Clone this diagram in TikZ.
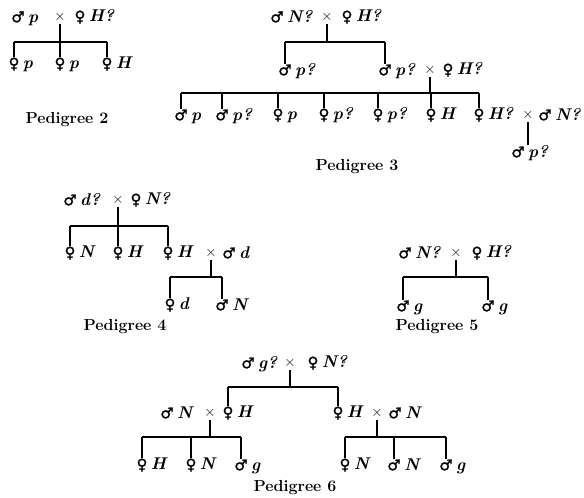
\documentclass[tikz,border=0pt]{standalone}
\usepackage{fontspec}
\newfontfamily\sexsym{DejaVu Sans}[FakeBold=1.5]
\newcommand{\genefont}{\fontsize{17}{19}\selectfont\bfseries\itshape}
\newcommand{\sexfont}{\sexsym\fontsize{15}{17}\selectfont}

\begin{document}
\begin{tikzpicture}[x=1pt,y=-1pt,
    sx/.style={inner sep=0pt, font=\sexfont},
    gn/.style={inner sep=0pt, font=\genefont},
    male/.style={sx, node contents={♂}, label={[gn, anchor=base west, xshift=3pt]base east:#1}},
    female/.style={sx, node contents={♀}, label={[gn, anchor=base west, xshift=3pt]base east:#1}},
    mate/.style={inner sep=0pt, font=\fontsize{14}{16}\selectfont, node contents={$\times$}},
    ttl/.style={font=\fontsize{16}{18}\selectfont\bfseries},
    kin/.style={line width=1.3pt}]
  \useasboundingbox (0,0) rectangle (584,498);
  % pedigree 2
  \node (m2) at (18,17) [male=p];
  \node (x2) at (60,17) [mate];
  \node (f2) at (80,17) [female=H?];
  \coordinate (b2) at (60,42);
  \node (c2a) at (14,64) [female=p];
  \node (c2b) at (60,64) [female=p];
  \node (c2c) at (107,64) [female=H];
  \draw[kin, shorten <=2pt] (x2.south) -- (b2);
  \draw[kin] (c2a |- b2) -- (c2c |- b2);
  \foreach \kid in {c2a,c2b,c2c} \draw[kin] (\kid |- b2) -- (\kid.north);
  \node[ttl] (t2) at (67,120) {Pedigree 2};
  % pedigree 3
  \node (m3) at (277,17) [male=N?];
  \node (x3) at (327,17) [mate];
  \node (f3) at (347,17) [female=H?];
  \coordinate (b3) at (327,42);
  \node (m3b) at (285,70) [male=p?];
  \node (m3c) at (385,70) [male=p?];
  \node (x3b) at (430,70) [mate];
  \node (f3b) at (448,70) [female=H?];
  \coordinate (b3b) at (430,93);
  \draw[kin, shorten <=2pt] (x3.south) -- (b3);
  \draw[kin] (m3b |- b3) -- (m3c |- b3);
  \foreach \kid in {m3b,m3c} \draw[kin] (\kid |- b3) -- (\kid.north);
  \node (c3a) at (181,115) [male=p];
  \node (c3b) at (222,115) [male=p?];
  \node (c3c) at (278,115) [female=p];
  \node (c3d) at (324,115) [female=p?];
  \node (c3e) at (378,115) [female=p?];
  \node (c3f) at (431,115) [female=H];
  \node (c3g) at (479,115) [female=H?];
  \node (x3c) at (528,115) [mate];
  \node (m3d) at (545,115) [male=N?];
  \draw[kin, shorten <=2pt] (x3b.south) -- (b3b);
  \draw[kin] (c3a |- b3b) -- (c3g |- b3b);
  \foreach \kid in {c3a,c3b,c3c,c3d,c3e,c3f,c3g} \draw[kin] (\kid |- b3b) -- (\kid.north);
  \node (c3h) at (518,152) [male=p?];
  \draw[kin, shorten <=2pt, shorten >=1pt] (x3c.south) -- (x3c |- c3h.north);
  \node[ttl] (t3) at (357,167) {Pedigree 3};
  % pedigree 4
  \node (m4) at (70,200) [male=d?];
  \node (x4) at (118,200) [mate];
  \node (f4) at (136,200) [female=N?];
  \coordinate (b4) at (118,226);
  \node (c4a) at (70,253) [female=N];
  \node (c4b) at (118,253) [female=H];
  \node (c4c) at (168,253) [female=H];
  \node (x4b) at (211,253) [mate];
  \node (m4b) at (229,253) [male=d];
  \coordinate (b4b) at (211,277);
  \draw[kin, shorten <=2pt] (x4.south) -- (b4);
  \draw[kin] (c4a |- b4) -- (c4c |- b4);
  \foreach \kid in {c4a,c4b,c4c} \draw[kin] (\kid |- b4) -- (\kid.north);
  \node (c4d) at (170,305) [female=d];
  \node (c4e) at (222,305) [male=N];
  \draw[kin, shorten <=2pt] (x4b.south) -- (b4b);
  \draw[kin] (c4d |- b4b) -- (c4e |- b4b);
  \foreach \kid in {c4d,c4e} \draw[kin] (\kid |- b4b) -- (\kid.north);
  \node[ttl] (t4) at (125,327) {Pedigree 4};
  % pedigree 5
  \node (m5) at (405,253) [male=N?];
  \node (x5) at (456,253) [mate];
  \node (f5) at (477,253) [female=H?];
  \coordinate (b5) at (456,277);
  \node (c5a) at (403,306) [male=g];
  \node (c5b) at (488,306) [male=g];
  \draw[kin, shorten <=2pt] (x5.south) -- (b5);
  \draw[kin] (c5a |- b5) -- (c5b |- b5);
  \foreach \kid in {c5a,c5b} \draw[kin] (\kid |- b5) -- (\kid.north);
  \node[ttl] (t5) at (437,327) {Pedigree 5};
  % pedigree 6
  \node (m6) at (248,363) [male=g?];
  \node (x6) at (290,363) [mate];
  \node (f6) at (313,363) [female=N?];
  \coordinate (b6) at (290,387);
  \node (m6a) at (167,413) [male=N];
  \node (x6a) at (210,413) [mate];
  \node (f6a) at (228,413) [female=H];
  \node (f6b) at (338,413) [female=H];
  \node (x6b) at (377,413) [mate];
  \node (m6b) at (395,413) [male=N];
  \draw[kin, shorten <=2pt] (x6.south) -- (b6);
  \draw[kin] (f6a |- b6) -- (f6b |- b6);
  \foreach \kid in {f6a,f6b} \draw[kin] (\kid |- b6) -- (\kid.north);
  \coordinate (b6a) at (210,437);
  \coordinate (b6b) at (377,437);
  \node (c6a) at (142,465) [female=H];
  \node (c6b) at (191,465) [female=N];
  \node (c6c) at (241,465) [male=g];
  \node (c6d) at (345,465) [female=N];
  \node (c6e) at (394,465) [male=N];
  \node (c6f) at (446,465) [male=g];
  \draw[kin, shorten <=2pt] (x6a.south) -- (b6a);
  \draw[kin] (c6a |- b6a) -- (c6c |- b6a);
  \foreach \kid in {c6a,c6b,c6c} \draw[kin] (\kid |- b6a) -- (\kid.north);
  \draw[kin, shorten <=2pt] (x6b.south) -- (b6b);
  \draw[kin] (c6d |- b6b) -- (c6f |- b6b);
  \foreach \kid in {c6d,c6e,c6f} \draw[kin] (\kid |- b6b) -- (\kid.north);
  \node[ttl] (t6) at (295,488) {Pedigree 6};
\end{tikzpicture}
\end{document}
